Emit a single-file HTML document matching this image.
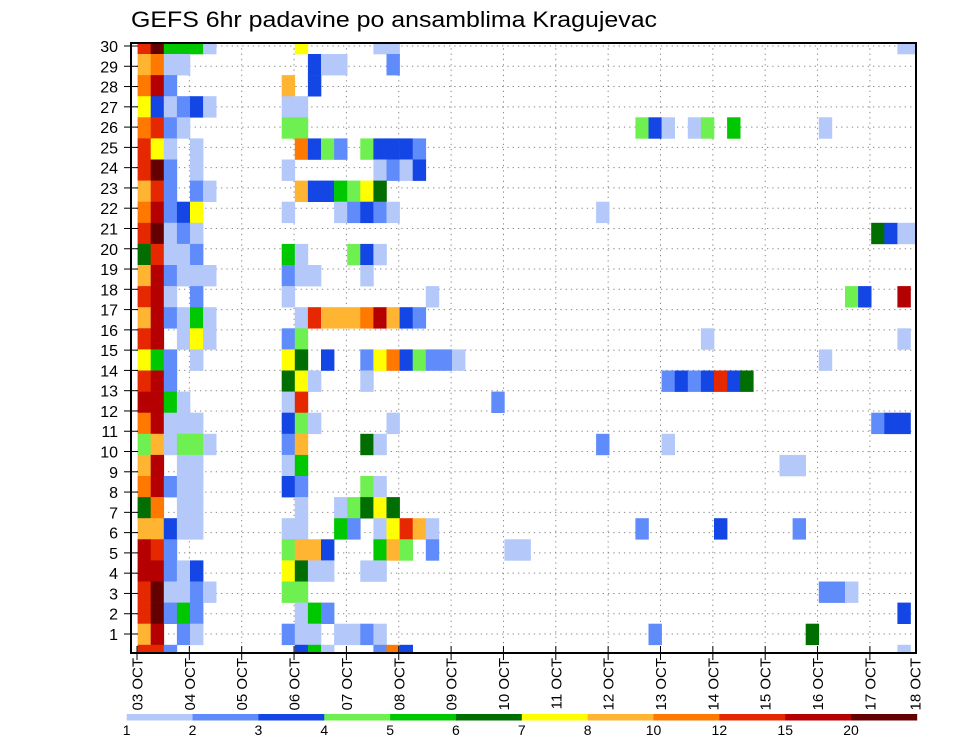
<!DOCTYPE html>
<html><head><meta charset="utf-8"><title>GEFS 6hr padavine</title>
<style>
html,body{margin:0;padding:0;background:#fff;}
svg{display:block;font-family:"Liberation Sans",sans-serif;}
</style></head>
<body>
<svg id="chart" width="960" height="742" viewBox="0 0 960 742" xmlns="http://www.w3.org/2000/svg">
<defs><clipPath id="plotclip"><rect x="131" y="43" width="785" height="610"/></clipPath></defs>
<rect x="0" y="0" width="960" height="742" fill="#fff"/>
<text x="131" y="27" font-size="22" textLength="526" lengthAdjust="spacingAndGlyphs" fill="#000">GEFS 6hr padavine po ansamblima Kragujevac</text>
<g id="grid"></g>
<g id="cells" clip-path="url(#plotclip)"></g>
<rect x="131" y="43" width="785" height="610" fill="none" stroke="#000" stroke-width="2"/>
<g id="yaxis"></g>
<g id="xaxis"></g>
<g id="legend"></g>
</svg>
<script>
// Precipitation class codes per member (top = member 30 ... bottom = member 1), 60 six-hour steps each
// '.' none, a:1-2 b:2-3 c:3-4 d:4-5 e:5-6 f:6-7 g:7-8 h:8-10 i:10-12 j:12-15 k:15-20 l:>20
const members = [30,29,28,27,26,25,24,23,22,21,20,19,18,17,16,15,14,13,12,11,10,9,8,7,6,5,4,3,2,1];
const rowCodes = [
"jleeea.... ..g.....aa .......... .......... .......... ........aa",
"hiaa...... ...caa...b .......... .......... .......... ..........",
"ikb....... .h.c...... .......... .......... .......... ..........",
"gcabca.... .aa....... .......... .......... .......... ..........",
"ijba...... .dd....... .......... ........dc a.ad.e.... ..a.......",
"jga.a..... ..icdb.dcc cb........ .......... .......... ..........",
"jlb.a..... .a......ab ac........ .......... .......... ..........",
"hjb.ba.... ..hccedgf. .......... .......... .......... ..........",
"ikbcg..... .a...abcba .......... .....a.... .......... ..........",
"jlaba..... .......... .......... .......... .......... ......fcaa",
"fjaab..... .ea...dca. .......... .......... .......... ..........",
"hkbaaa.... .baa...a.. .......... .......... .......... ..........",
"jka.b..... .a........ ..a....... .......... .......... ....dc..k.",
"hkbaea.... ..ajhhhikh cb........ .......... .......... ..........",
"jk.aga.... .bd....... .......... .......... ...a...... ........a.",
"geb.a..... .gf.c..bgi cdbba..... .......... .......... ..a.......",
"jkb....... .fga...a.. .......... .......... bcbcjcf... ..........",
"kkea...... .aj....... .......b.. .......... .......... ..........",
"ikaaa..... .cda.....a .......... .......... .......... ......bcc.",
"dhadda.... .bh....fa. .......... .....b.... a......... ..........",
"hk.aa..... .ae....... .......... .......... .........a a.........",
"ikbaa..... .cb....da. .......... .......... .......... ..........",
"fi.aa..... ..a..adfgf .......... .......... .......... ..........",
"hhcaa..... .aa..eb.ag jha....... ........b. ....c..... b.........",
"kjb....... .dhhc...eh d.b.....aa .......... .......... ..........",
"kkbac..... .gfaa..aa. .......... .......... .......... ..........",
"jlaaba.... .dd....... .......... .......... .......... ..bba.....",
"jlbeb..... ..aeb..... .......... .......... .......... ........c.",
"hk.ba..... .baa.aaba. .......... .........b .......... .f........",
"jjb....... ..cea...bi c......... .......... .......... ........a."
];
const levelCodes = ["a","b","c","d","e","f","g","h","i","j","k","l"];
const levelColors = ["#b4c8fa","#5f8cfa","#1446e6","#6ef050","#00c800","#006e00","#ffff00","#ffb432","#ff7800","#e62800","#b40000","#640000"];
const legendLabels = ["1","2","3","4","5","6","7","8","10","12","15","20"];
const dayLabels = ["03 OCT","04 OCT","05 OCT","06 OCT","07 OCT","08 OCT","09 OCT","10 OCT","11 OCT","12 OCT","13 OCT","14 OCT","15 OCT","16 OCT","17 OCT","18 OCT"];
const yTickLabels = [1,2,3,4,5,6,7,8,9,10,11,12,13,14,15,16,17,18,19,20,21,22,23,24,25,26,27,28,29,30];

const NS = "http://www.w3.org/2000/svg";
function mk(tag, attrs, parent){const e=document.createElementNS(NS,tag);for(const k in attrs)e.setAttribute(k,attrs[k]);parent.appendChild(e);return e;}
// axis functions
const colX = k => 137.6 + 13.1*k;
const colW = 13.1;
const rowY = idx => 32.9 + 21.1*idx;
const rowH = 21.1;
const labelY = m => 634 - (m-1)*20.276;
const dayX = d => d === 15 ? 915 : 137 + 52.35*d;

const cells = document.getElementById('cells');
rowCodes.forEach((s, idx) => {
  const str = s.replace(/ /g,'');
  for (let k=0;k<str.length;k++){
    const lv = levelCodes.indexOf(str[k]);
    if (lv<0) continue;
    const r = mk('rect',{x:colX(k).toFixed(2),y:rowY(idx).toFixed(2),width:colW+0.3,height:rowH+0.3,fill:levelColors[lv]},cells);
    
    
  }
});

const grid = document.getElementById('grid');
yTickLabels.forEach(m => {
  const y = labelY(m);
  const l = mk('line',{x1:131,x2:916,y1:y,y2:y,stroke:'#888','stroke-width':1,'stroke-dasharray':'1.3 4'},grid);
  
  
});
for (let d=1; d<15; d++){
  const x = dayX(d);
  const l = mk('line',{x1:x,x2:x,y1:43,y2:653,stroke:'#888','stroke-width':1,'stroke-dasharray':'1.3 4'},grid);
  
  
}

const yaxis = document.getElementById('yaxis');
yTickLabels.forEach(m => {
  const y = labelY(m);
  const t = mk('line',{x1:124,x2:138,y1:y,y2:y,stroke:'#000','stroke-width':1},yaxis);
  
  
  const tx = mk('text',{x:118,y:y+6,'font-size':16,'text-anchor':'end',fill:'#000'},yaxis);
  tx.textContent = m;
  
  
});

const xaxis = document.getElementById('xaxis');
dayLabels.forEach((lab, d) => {
  const x = dayX(d);
  if (d < 15) {
    const t = mk('line',{x1:x,x2:x,y1:646,y2:660,stroke:'#000','stroke-width':1},xaxis);
    
    
  }
  const tx = mk('text',{x:0,y:0,'font-size':15,'text-anchor':'end',fill:'#000',transform:'translate('+(x+5.5)+',658) rotate(-90)'},xaxis);
  tx.textContent = lab;
  
  
});

const legend = document.getElementById('legend');
const lx0 = 126.7, lw = 65.85;
levelColors.forEach((c, i) => {
  const r = mk('rect',{x:lx0+i*lw,y:714,width:lw+0.3,height:6.5,fill:c},legend);
  
  
  const tx = mk('text',{x:lx0+i*lw,y:735,'font-size':14,'text-anchor':'middle',fill:'#000'},legend);
  tx.textContent = legendLabels[i];
  
  
});
</script>
</body></html>
